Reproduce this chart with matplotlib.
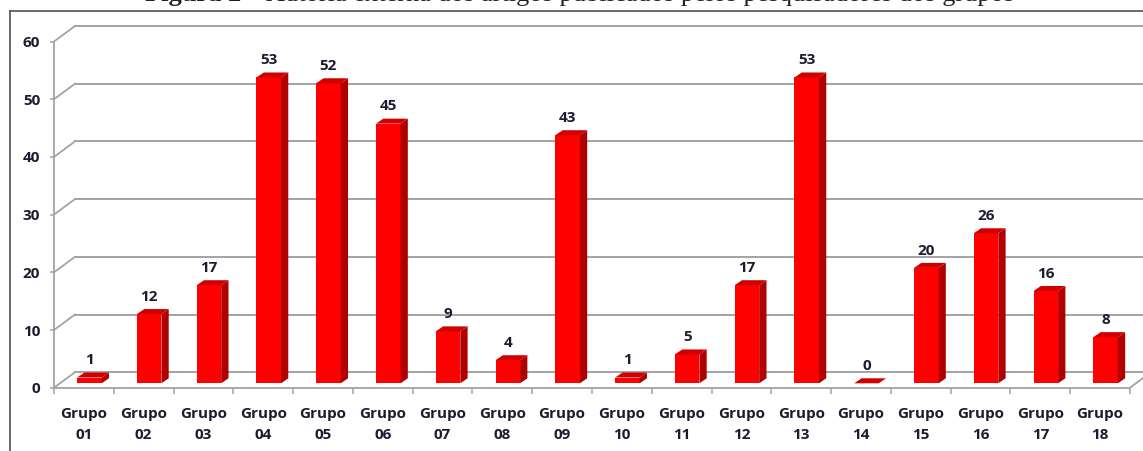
import matplotlib
matplotlib.use('Agg')
import matplotlib.pyplot as plt
from matplotlib.patches import Polygon
from matplotlib.lines import Line2D
import numpy as np

# ---------------- data ----------------
categories = ["Grupo\n01", "Grupo\n02", "Grupo\n03", "Grupo\n04", "Grupo\n05", "Grupo\n06",
              "Grupo\n07", "Grupo\n08", "Grupo\n09", "Grupo\n10", "Grupo\n11", "Grupo\n12",
              "Grupo\n13", "Grupo\n14", "Grupo\n15", "Grupo\n16", "Grupo\n17", "Grupo\n18"]
values = [1, 12, 17, 53, 52, 45, 9, 4, 43, 1, 5, 17, 53, 0, 20, 26, 16, 8]
y_ticks = [0, 10, 20, 30, 40, 50, 60]
title_bold = "Figura 2"
title_rest = " – Autoria externa dos artigos publicados pelos pesquisadores dos grupos"

# ---------------- layout ----------------
W, H = 1143, 451
fig = plt.figure(figsize=(W / 100, H / 100), dpi=100)
ax_left, ax_right, ax_top, ax_bot = 54, 1130, 41.5, 387.7
ax = fig.add_axes([ax_left / W, 1 - ax_bot / H, (ax_right - ax_left) / W, (ax_bot - ax_top) / H])
n = len(values)
ax.set_xlim(-0.5, n - 0.5)
ax.set_ylim(0, 60)
ppx = (ax_right - ax_left) / n          # pixels per x unit
ppy = (ax_bot - ax_top) / 60.0          # pixels per y unit

# 3D offsets (pixels -> data units)
BX, BY = 21 / ppx, 15.5 / ppy           # back wall
FX, FY = 5.5 / ppx, 4.4 / ppy           # bar front face offset
DX, DY = 7.3 / ppx, 5.0 / ppy           # bar depth
BW = 24.5 / ppx                         # bar width

grid_c = '#a3a3a3'
text_c = '#1c1c30'
font = 'Open Sans'
fs = 11

# back wall gridlines + left wall diagonals
x0 = -0.5
for yv in y_ticks:
    ax.add_line(Line2D([x0 + BX, n + 2], [yv + BY, yv + BY], color=grid_c, lw=1.4,
                       clip_on=False, zorder=1))
    ax.add_line(Line2D([x0, x0 + BX], [yv, yv + BY], color=grid_c, lw=1.3,
                       clip_on=False, zorder=1))
# right floor diagonal
ax.add_line(Line2D([n - 0.5, n - 0.5 + BX], [0, BY], color=grid_c, lw=1.3, clip_on=False, zorder=1))

# bars
front_c, side_c, top_c = '#ff0000', '#b00000', '#d00000'
xs = np.arange(n)
ax.bar(xs + FX, values, width=BW, bottom=FY, color=front_c, zorder=3, clip_on=False)
for i, v in enumerate(values):
    xl = i + FX - BW / 2
    xr = i + FX + BW / 2
    yb = FY
    yt = FY + v
    side = Polygon([(xr, yb), (xr + DX, yb + DY), (xr + DX, yt + DY), (xr, yt)],
                   closed=True, facecolor=side_c, edgecolor='none', zorder=3, clip_on=False)
    top = Polygon([(xl, yt), (xr, yt), (xr + DX, yt + DY), (xl + DX, yt + DY)],
                  closed=True, facecolor=top_c, edgecolor='none', zorder=3, clip_on=False)
    ax.add_patch(side)
    ax.add_patch(top)
    ax.annotate(str(v), xy=(i + FX, yt + DY), xytext=(0, 6), textcoords='offset points',
                ha='center', va='baseline', fontsize=fs, fontweight='bold', family=font,
                color=text_c, zorder=5)

# spines / ticks
for s in ['top', 'right']:
    ax.spines[s].set_visible(False)
for s in ['left', 'bottom']:
    ax.spines[s].set_color(grid_c)
    ax.spines[s].set_linewidth(1.3)
ax.set_yticks(y_ticks)
ax.set_yticklabels([str(t) for t in y_ticks])
ax.tick_params(axis='y', length=3, width=1.1, color=grid_c, pad=7,
               labelsize=fs, labelcolor=text_c)
ax.set_xticks(np.arange(-0.5, n, 1.0))
ax.set_xticklabels([''] * (n + 1))
ax.tick_params(axis='x', which='major', length=4, width=1.1, color=grid_c)
ax.set_xticks(xs, minor=True)
ax.set_xticklabels(categories, minor=True)
ax.tick_params(axis='x', which='minor', length=0, pad=14, labelsize=fs, labelcolor=text_c)
for lab in ax.get_xticklabels(minor=True):
    lab.set_fontweight('bold')
    lab.set_family(font)
    lab.set_linespacing(1.58)
for lab in ax.get_yticklabels():
    lab.set_fontweight('bold')
    lab.set_family(font)
ax.patch.set_visible(False)

# outer frame (left and top border)
fig.add_artist(Line2D([10 / W, 10 / W], [0, 1 - 11 / H], color='#505050', lw=1.2))
fig.add_artist(Line2D([10 / W, 1], [1 - 11 / H, 1 - 11 / H], color='#505050', lw=1.2))

# title (mostly cut off at the top)
t1 = fig.text(145 / W, 1 - 1.5 / H, title_bold, ha='left', va='baseline', fontsize=19,
              fontweight='bold', family='Liberation Serif', color='#222222')
fig.canvas.draw()
bb = t1.get_window_extent()
fig.text(bb.x1 / W, 1 - 1.5 / H, title_rest, ha='left', va='baseline', fontsize=19,
         family='Liberation Serif', color='#222222')

fig.savefig('out.png', dpi=100)
